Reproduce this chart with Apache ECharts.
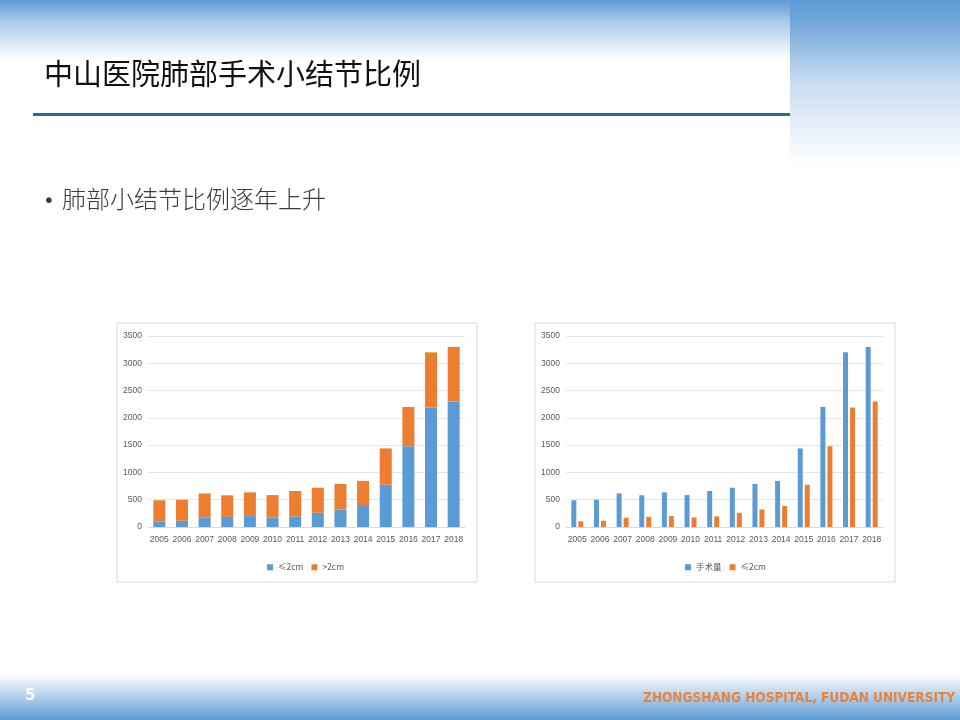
<!DOCTYPE html>
<html>
<head>
<meta charset="utf-8">
<script src="https://cdn.jsdelivr.net/npm/echarts@6/dist/echarts.min.js"></script>
<style>
  html, body { margin: 0; padding: 0; background: #fff; }
  #slide { width: 960px; height: 720px; }
</style>
</head>
<body>
<div id="slide"></div>
<script>
// 年份
const years = ['2005', '2006', '2007', '2008', '2009', '2010', '2011', '2012', '2013', '2014', '2015', '2016', '2017', '2018']
// 手术量（总数）
const totalOps = [490, 500, 615, 580, 635, 585, 660, 720, 790, 845, 1440, 2200, 3200, 3300]
// ≤2cm
const smallNodule = [105, 115, 170, 185, 200, 175, 195, 260, 320, 385, 775, 1480, 2190, 2300]
// >2cm
const largeNodule = [385, 385, 445, 395, 435, 410, 465, 460, 470, 460, 665, 720, 1010, 1000]
const yTicks = { min: 0, max: 3500, interval: 500 }

const BLUE = '#5b9bd5'
const ORANGE = '#ed7d31'
const CJK = '"Noto Sans CJK SC", "Microsoft YaHei", sans-serif'

let myChart = echarts.init(document.getElementById('slide'))

function xAxisFor(gridIndex) {
  return {
    type: 'category', gridIndex, data: years,
    axisLine: { lineStyle: { color: '#d9d9d9' } },
    axisTick: { show: false },
    axisLabel: { interval: 0, color: '#595959', fontSize: 8.5, fontFamily: 'Liberation Sans', margin: 8 }
  }
}
function yAxisFor(gridIndex) {
  return {
    type: 'value', gridIndex, min: yTicks.min, max: yTicks.max, interval: yTicks.interval,
    axisLine: { show: false }, axisTick: { show: false },
    splitLine: { lineStyle: { color: '#e6e6e6' } },
    axisLabel: { color: '#595959', fontSize: 8.5, fontFamily: 'Liberation Sans', margin: 6,
      formatter: v => String(v) }
  }
}

const option = {
  animation: false,
  graphic: [
    // 顶部渐变
    { type: 'rect', shape: { x: 0, y: 0, width: 960, height: 60 }, silent: true,
      style: { fill: new echarts.graphic.LinearGradient(0, 0, 0, 1, [
        { offset: 0, color: '#5b9bd5' }, { offset: 0.35, color: '#a9c9e9' }, { offset: 1, color: '#ffffff' }]) } },
    { type: 'rect', shape: { x: 790, y: 0, width: 170, height: 165 }, silent: true,
      style: { fill: new echarts.graphic.LinearGradient(0, 0, 0, 1, [
        { offset: 0, color: '#5b9bd5' }, { offset: 0.12, color: '#6fa5da' }, { offset: 0.5, color: '#c9dcf0' }, { offset: 1, color: '#ffffff' }]) } },
    // 标题下划线
    { type: 'rect', shape: { x: 33, y: 113, width: 757, height: 3 }, silent: true, style: { fill: '#1f6d9b' } },
    // 底部渐变
    { type: 'rect', shape: { x: 0, y: 674, width: 960, height: 46 }, silent: true,
      style: { fill: new echarts.graphic.LinearGradient(0, 0, 0, 1, [
        { offset: 0, color: '#ffffff' }, { offset: 0.55, color: '#a9c9e9' }, { offset: 1, color: '#5b9bd5' }]) } },
    // 图表边框
    { type: 'rect', shape: { x: 117, y: 323, width: 360, height: 259 }, silent: true, z: -1,
      style: { fill: '#ffffff', stroke: '#d9d9d9', lineWidth: 1 } },
    { type: 'rect', shape: { x: 535, y: 323, width: 360, height: 259 }, silent: true, z: -1,
      style: { fill: '#ffffff', stroke: '#d9d9d9', lineWidth: 1 } },
    // 文字
    { type: 'text', left: 44, top: 59, silent: true,
      style: { text: '中山医院肺部手术小结节比例', fill: '#111111', fontSize: 29, fontFamily: CJK, fontWeight: 400 } },
    { type: 'text', left: 43, top: 192, silent: true,
      style: { text: '•', fill: '#3a3a3a', fontSize: 20, fontFamily: 'DejaVu Sans' } },
    { type: 'text', left: 62, top: 187, silent: true,
      style: { text: '肺部小结节比例逐年上升', fill: '#3a3a3a', fontSize: 24, fontFamily: CJK, fontWeight: 300 } },
    { type: 'text', left: 25, top: 689, silent: true,
      style: { text: '5', fill: '#ffffff', fontSize: 15, fontWeight: 'bold', fontFamily: 'DejaVu Sans' } },
    { type: 'text', right: 5, top: 691, silent: true,
      style: { text: 'ZHONGSHANG HOSPITAL, FUDAN UNIVERSITY', fill: '#e5843f', fontSize: 13.5, fontWeight: 'bold', fontFamily: 'DejaVu Sans Condensed' } }
  ],
  legend: [
    { left: 262, top: 558, itemWidth: 6, itemHeight: 6, itemGap: 8, icon: 'rect',
      textStyle: { color: '#595959', fontSize: 8.5, fontFamily: CJK },
      data: ['≤2cm', '>2cm'] },
    { left: 680, top: 558, itemWidth: 6, itemHeight: 6, itemGap: 8, icon: 'rect',
      textStyle: { color: '#595959', fontSize: 8.5, fontFamily: CJK },
      data: ['手术量', '≤2cm '] }
  ],
  grid: [
    { left: 148, top: 336, width: 317, height: 191 },
    { left: 566, top: 336, width: 317, height: 191 }
  ],
  xAxis: [xAxisFor(0), xAxisFor(1)],
  yAxis: [yAxisFor(0), yAxisFor(1)],
  series: [
    { name: '≤2cm', type: 'bar', stack: 'size', xAxisIndex: 0, yAxisIndex: 0, barWidth: 12,
      itemStyle: { color: BLUE }, data: smallNodule },
    { name: '>2cm', type: 'bar', stack: 'size', xAxisIndex: 0, yAxisIndex: 0, barWidth: 12,
      itemStyle: { color: ORANGE }, data: largeNodule },
    { name: '手术量', type: 'bar', xAxisIndex: 1, yAxisIndex: 1, barWidth: 5, barGap: '40%',
      itemStyle: { color: BLUE }, data: totalOps },
    { name: '≤2cm ', type: 'bar', xAxisIndex: 1, yAxisIndex: 1, barWidth: 5, barGap: '40%',
      itemStyle: { color: ORANGE }, data: smallNodule }
  ]
}

myChart.setOption(option)
</script>
</body>
</html>
